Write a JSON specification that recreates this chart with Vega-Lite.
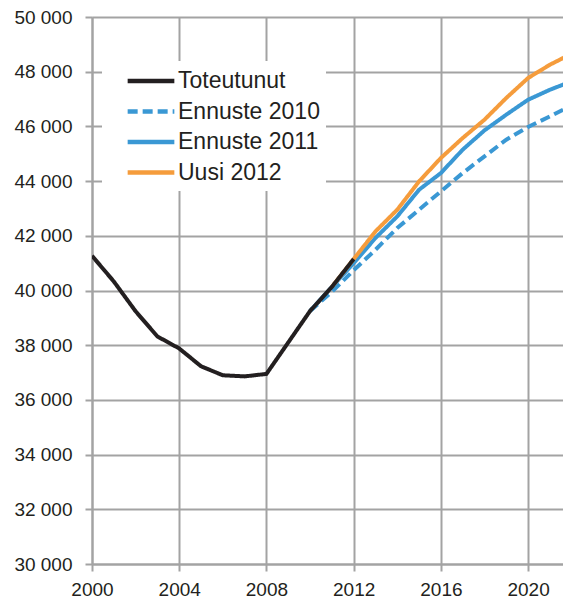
{
  "$schema": "https://vega.github.io/schema/vega-lite/v6.json",
  "width": 471,
  "height": 547,
  "autosize": {"type": "none"},
  "padding": {"left": 92, "top": 17, "right": 0, "bottom": 37},
  "background": "white",
  "config": {
    "view": {"stroke": null},
    "font": "Liberation Sans",
    "axis": {
      "gridColor": "#a3a3a3",
      "gridWidth": 2,
      "gridOpacity": 1,
      "domainColor": "#a3a3a3",
      "domainWidth": 2,
      "tickColor": "#a3a3a3",
      "tickWidth": 2,
      "tickSize": 7,
      "labelFont": "Liberation Sans",
      "labelFontSize": 19,
      "labelColor": "#231f20",
      "title": null
    },
    "legend": {
      "labelFont": "Liberation Sans",
      "labelFontSize": 23,
      "labelColor": "#231f20"
    }
  },
  "data": {
    "values": [
      {"year": 2000, "value": 41270, "series": "Toteutunut"},
      {"year": 2001, "value": 40330, "series": "Toteutunut"},
      {"year": 2002, "value": 39240, "series": "Toteutunut"},
      {"year": 2003, "value": 38320, "series": "Toteutunut"},
      {"year": 2004, "value": 37880, "series": "Toteutunut"},
      {"year": 2005, "value": 37230, "series": "Toteutunut"},
      {"year": 2006, "value": 36900, "series": "Toteutunut"},
      {"year": 2007, "value": 36860, "series": "Toteutunut"},
      {"year": 2008, "value": 36950, "series": "Toteutunut"},
      {"year": 2009, "value": 38100, "series": "Toteutunut"},
      {"year": 2010, "value": 39250, "series": "Toteutunut"},
      {"year": 2011, "value": 40130, "series": "Toteutunut"},
      {"year": 2012, "value": 41150, "series": "Toteutunut"},
      {"year": 2010, "value": 39250, "series": "Ennuste 2010"},
      {"year": 2011, "value": 39950, "series": "Ennuste 2010"},
      {"year": 2012, "value": 40740, "series": "Ennuste 2010"},
      {"year": 2013, "value": 41490, "series": "Ennuste 2010"},
      {"year": 2014, "value": 42285, "series": "Ennuste 2010"},
      {"year": 2015, "value": 42955, "series": "Ennuste 2010"},
      {"year": 2016, "value": 43625, "series": "Ennuste 2010"},
      {"year": 2017, "value": 44295, "series": "Ennuste 2010"},
      {"year": 2018, "value": 44905, "series": "Ennuste 2010"},
      {"year": 2019, "value": 45515, "series": "Ennuste 2010"},
      {"year": 2020, "value": 45980, "series": "Ennuste 2010"},
      {"year": 2021, "value": 46365, "series": "Ennuste 2010"},
      {"year": 2022, "value": 46770, "series": "Ennuste 2010"},
      {"year": 2010, "value": 39250, "series": "Ennuste 2011"},
      {"year": 2011, "value": 40130, "series": "Ennuste 2011"},
      {"year": 2012, "value": 41000, "series": "Ennuste 2011"},
      {"year": 2013, "value": 41920, "series": "Ennuste 2011"},
      {"year": 2014, "value": 42710, "series": "Ennuste 2011"},
      {"year": 2015, "value": 43685, "series": "Ennuste 2011"},
      {"year": 2016, "value": 44295, "series": "Ennuste 2011"},
      {"year": 2017, "value": 45150, "series": "Ennuste 2011"},
      {"year": 2018, "value": 45855, "series": "Ennuste 2011"},
      {"year": 2019, "value": 46430, "series": "Ennuste 2011"},
      {"year": 2020, "value": 46975, "series": "Ennuste 2011"},
      {"year": 2021, "value": 47340, "series": "Ennuste 2011"},
      {"year": 2022, "value": 47650, "series": "Ennuste 2011"},
      {"year": 2011, "value": 40130, "series": "Uusi 2012"},
      {"year": 2012, "value": 41150, "series": "Uusi 2012"},
      {"year": 2013, "value": 42160, "series": "Uusi 2012"},
      {"year": 2014, "value": 42955, "series": "Uusi 2012"},
      {"year": 2015, "value": 43990, "series": "Uusi 2012"},
      {"year": 2016, "value": 44845, "series": "Uusi 2012"},
      {"year": 2017, "value": 45575, "series": "Uusi 2012"},
      {"year": 2018, "value": 46245, "series": "Uusi 2012"},
      {"year": 2019, "value": 47040, "series": "Uusi 2012"},
      {"year": 2020, "value": 47770, "series": "Uusi 2012"},
      {"year": 2021, "value": 48255, "series": "Uusi 2012"},
      {"year": 2022, "value": 48660, "series": "Uusi 2012"}
    ]
  },
  "encoding": {
    "x": {
      "field": "year",
      "type": "quantitative",
      "scale": {"domain": [2000, 2021.6], "nice": false, "zero": false},
      "axis": {"values": [2000, 2004, 2008, 2012, 2016, 2020], "format": "d", "labelPadding": 9, "labelFlush": false}
    },
    "y": {
      "field": "value",
      "type": "quantitative",
      "scale": {"domain": [30000, 50000], "nice": false, "zero": false},
      "axis": {
        "values": [30000, 32000, 34000, 36000, 38000, 40000, 42000, 44000, 46000, 48000, 50000],
        "labelExpr": "replace(format(datum.value, ','), ',', ' ')",
        "labelPadding": 13,
        "labelFlush": false
      }
    },
    "color": {
      "field": "series",
      "type": "nominal",
      "title": null,
      "scale": {
        "domain": ["Toteutunut", "Ennuste 2010", "Ennuste 2011", "Uusi 2012"],
        "range": ["#231f20", "#3a98d4", "#3a98d4", "#f59c3c"]
      },
      "legend": {
        "orient": "none",
        "legendX": 10,
        "legendY": 44,
        "fillColor": "white",
        "padding": 6,
        "symbolType": "M-2,0H2",
        "symbolSize": 545,
        "symbolStrokeWidth": 4.5,
        "symbolFillColor": "transparent",
        "symbolOffset": 29,
        "labelOffset": 13,
        "rowPadding": 4.5
      }
    },
    "strokeDash": {
      "field": "series",
      "type": "nominal",
      "title": null,
      "scale": {
        "domain": ["Toteutunut", "Ennuste 2010", "Ennuste 2011", "Uusi 2012"],
        "range": [[1, 0], [10, 5], [1, 0], [1, 0]]
      }
    }
  },
  "layer": [
    {
      "transform": [{"filter": "datum.series !== 'Toteutunut'"}],
      "mark": {"type": "line", "strokeWidth": 4, "clip": true}
    },
    {
      "transform": [{"filter": "datum.series === 'Toteutunut'"}],
      "mark": {"type": "line", "strokeWidth": 4, "clip": true}
    }
  ]
}
